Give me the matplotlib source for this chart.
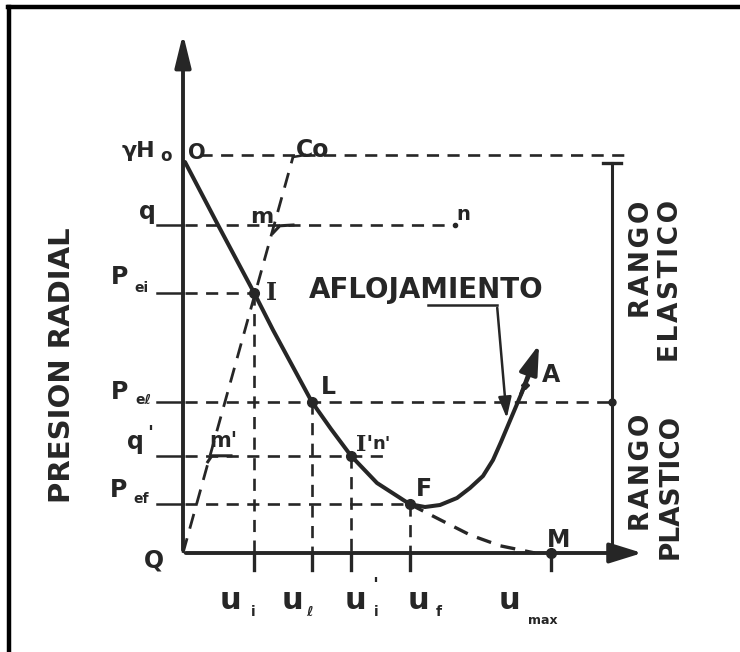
import matplotlib
matplotlib.use("Agg")
import matplotlib.pyplot as plt
from matplotlib.lines import Line2D

# ---------------- data ----------------
# pressure levels on the radial-pressure axis
gamma_H0 = 9.95
q_level = 8.2
p_ei = 6.5
p_el = 3.78
q_prime = 2.43
p_ef = 1.22

# displacement positions on the u axis
u_i = 1.78
u_l = 3.22
u_ip = 4.2
u_f = 5.67
u_max = 9.2
u_n = 6.8          # end of support line m-n
u_np = 5.05        # end of support line m'-n'
u_co = 2.75        # elastic support line top (Co)

# ground reaction curve O -> I -> L -> I' -> F
curve_u = [0.05, 0.875, 1.78, 2.25, 2.75, 3.22, 3.7, 4.2, 4.85, 5.67]
curve_p = [9.775, 8.2, 6.5, 5.575, 4.65, 3.78, 3.1, 2.43, 1.75, 1.22]

# loosening branch F -> A
loose_u = [5.67, 6.05, 6.425, 6.85, 7.175, 7.5, 7.75, 7.95, 8.15, 8.425, 8.75]
loose_p = [1.22, 1.15, 1.2, 1.375, 1.625, 1.925, 2.325, 2.775, 3.25, 3.9, 4.675]
loose_tip = (8.925, 5.275)

# theoretical continuation F -> M (dashed)
cont_u = [5.67, 6.43, 7.18, 7.93, 8.8]
cont_p = [1.22, 0.83, 0.45, 0.18, 0.0]

ink = "#262626"

fig = plt.figure(figsize=(7.4, 6.52), dpi=100)
ax = fig.add_axes([0, 0, 1, 1])
ax.set_xlim(-4.575, 13.925)
ax.set_ylim(-2.475, 13.825)
ax.axis("off")

# frame (left and top edges)
fig.add_artist(Line2D([0.0128, 0.0128], [0, 0.990], transform=fig.transFigure, color="black", lw=3.2))
fig.add_artist(Line2D([0.0105, 1.0], [0.989, 0.989], transform=fig.transFigure, color="black", lw=3.2))

DASH = dict(color=ink, lw=1.9, dashes=(4.6, 3.2))
bold = dict(color=ink, fontweight="bold", family="DejaVu Sans")

# axes with arrows
ax.annotate("", xy=(0, 13.05), xytext=(0, 0),
            arrowprops=dict(arrowstyle="-|>,head_length=0.9,head_width=0.22", lw=2.8, color=ink, mutation_scale=22))
ax.annotate("", xy=(11.55, 0), xytext=(0, 0),
            arrowprops=dict(arrowstyle="-|>,head_length=0.9,head_width=0.28", lw=2.8, color=ink, mutation_scale=22))

# horizontal reference levels
for lev, u_end in [(q_level, u_n), (p_ei, u_i), (p_el, 10.85), (q_prime, u_np), (p_ef, u_f)]:
    ax.plot([-0.65, 0], [lev, lev], color=ink, lw=1.8)
    ax.plot([0.05, u_end], [lev, lev], **DASH)
ax.plot([0.42, 11.05], [gamma_H0, gamma_H0], **DASH)

# vertical reference lines and ticks
for uu, pp in [(u_i, p_ei), (u_l, p_el), (u_ip, q_prime), (u_f, p_ef)]:
    ax.plot([uu, uu], [pp, 0], **DASH)
for uu in [u_i, u_l, u_ip, u_f, u_max]:
    ax.plot([uu, uu], [0, -0.42], color=ink, lw=2.4)

# elastic support line Q -> Co
ax.plot([0, u_co], [0, gamma_H0 - 0.05], color=ink, lw=2.0, dashes=(5.5, 3.6))
ax.plot([u_co, u_co + 0.3], [gamma_H0 - 0.05, gamma_H0], color=ink, lw=1.8)
# hooks at m and m'
ax.plot([2.25, 2.42, 2.75], [8.0, 8.18, 8.2], color=ink, lw=2.2)
ax.plot([0.62, 0.72, 1.2], [2.28, 2.43, 2.43], color=ink, lw=2.2)

# ground reaction curve
ax.plot(curve_u, curve_p, color=ink, lw=2.9, solid_capstyle="round", solid_joinstyle="round")
ax.plot(loose_u, loose_p, color=ink, lw=2.9, solid_capstyle="round", solid_joinstyle="round")
ax.annotate("", xy=loose_tip, xytext=(loose_u[-2], loose_p[-2]),
            arrowprops=dict(arrowstyle="-|>,head_length=0.9,head_width=0.28", lw=2.8, color=ink, mutation_scale=20))
ax.plot(cont_u, cont_p, color=ink, lw=2.4, dashes=(4.5, 3.0))

# points
for uu, pp in [(u_i, p_ei), (u_l, p_el), (u_ip, q_prime), (u_f, p_ef), (u_max, 0)]:
    ax.plot(uu, pp, "o", color=ink, ms=7)
ax.plot(u_n, q_level, "o", color=ink, ms=3)
ax.plot(8.55, 4.2, "D", color=ink, ms=4)

# right range bar
ax.plot([10.72, 10.72], [9.75, 0], color=ink, lw=2.2)
ax.plot([10.5, 10.95], [9.75, 9.75], color=ink, lw=2.4)
ax.plot(10.72, p_el, "o", color=ink, ms=5)

# loosening leader
ax.plot([6.12, 7.85], [6.2, 6.2], color=ink, lw=1.8)
ax.annotate("", xy=(8.1, 3.3), xytext=(7.85, 6.2),
            arrowprops=dict(arrowstyle="-|>,head_length=0.7,head_width=0.22", lw=1.8, color=ink, mutation_scale=18))

# ---------------- texts ----------------
ax.text(-0.7, 10.05, "γH", ha="right", va="center", fontsize=16, **bold)
ax.text(-0.43, 9.93, "o", ha="center", va="center", fontsize=12, **bold)
ax.text(0.35, 10.0, "O", ha="center", va="center", fontsize=15, **bold)
ax.text(3.25, 10.08, "Co", ha="center", va="center", fontsize=17, **bold)
ax.text(-0.9, 8.52, "q", ha="center", va="center", fontsize=17, **bold)
ax.text(1.98, 8.4, "m", ha="center", va="center", fontsize=16, **bold)
ax.text(7.0, 8.45, "n", ha="center", va="center", fontsize=14, **bold)

ax.text(-1.58, 6.9, "P", ha="center", va="center", fontsize=17, **bold)
ax.text(-1.05, 6.62, "ei", ha="center", va="center", fontsize=10, **bold)
ax.text(-1.58, 4.03, "P", ha="center", va="center", fontsize=17, **bold)
ax.text(-1.0, 3.83, "eℓ", ha="center", va="center", fontsize=10, **bold)
ax.text(-1.2, 2.78, "q", ha="center", va="center", fontsize=17, **bold)
ax.text(-0.82, 2.98, "'", ha="center", va="center", fontsize=14, **bold)
ax.text(-1.6, 1.58, "P", ha="center", va="center", fontsize=17, **bold)
ax.text(-1.05, 1.35, "ef", ha="center", va="center", fontsize=10, **bold)
ax.text(-0.72, -0.18, "Q", ha="center", va="center", fontsize=17, **bold)

serif = dict(color=ink, fontweight="bold", family="DejaVu Serif")
ax.text(2.22, 6.5, "I", ha="center", va="center", fontsize=17, **serif)
ax.text(4.55, 2.7, "I'", ha="center", va="center", fontsize=16, **serif)
ax.text(4.97, 2.73, "n'", ha="center", va="center", fontsize=13, **bold)
ax.text(1.0, 2.8, "m'", ha="center", va="center", fontsize=15, **bold)

ax.text(6.08, 6.58, "AFLOJAMIENTO", ha="center", va="center", fontsize=20, **bold)
ax.text(3.63, 4.15, "L", ha="center", va="center", fontsize=17, **bold)
ax.text(6.03, 1.6, "F", ha="center", va="center", fontsize=17, **bold)
ax.text(9.2, 4.45, "A", ha="center", va="center", fontsize=17, **bold)
ax.text(9.38, 0.33, "M", ha="center", va="center", fontsize=17, **bold)

# u labels
for uu, pu, sub, ps in [(1.18, -1.18, "i", (1.75, -1.48)), (2.73, -1.18, "ℓ", (3.15, -1.48)),
                        (4.3, -1.18, "i", (4.83, -1.48)), (5.88, -1.18, "f", (6.4, -1.48)),
                        (8.15, -1.18, "max", (9.0, -1.68))]:
    ax.text(uu, pu, "u", ha="center", va="center", fontsize=22, **bold)
    ax.text(ps[0], ps[1], sub, ha="center", va="center", fontsize=10 if sub != "max" else 9, **bold)
ax.text(4.8, -0.8, "'", ha="center", va="center", fontsize=14, **bold)

ax.text(-3.02, 4.7, "PRESION RADIAL", rotation=90, ha="center", va="center", fontsize=21, **bold)
sp = "\u200a"
ax.text(11.48, 8.82, sp.join("RANGO"), rotation=90, ha="center", va="top", fontsize=19, **bold)
ax.text(12.2, 8.82, sp.join("ELASTICO"), rotation=90, ha="center", va="top", fontsize=19, **bold)
ax.text(11.48, 3.48, sp.join("RANGO"), rotation=90, ha="center", va="top", fontsize=19, **bold)
ax.text(12.2, 3.48, "PLASTICO", rotation=90, ha="center", va="top", fontsize=19, **bold)

fig.savefig("out.png", dpi=100, facecolor="white")
